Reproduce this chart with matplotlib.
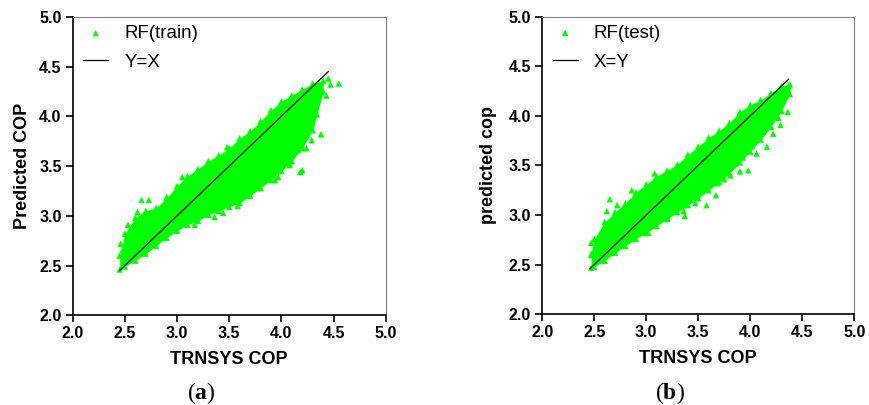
"""
RF model: predicted COP vs TRNSYS COP (train / test)
"""
import matplotlib
matplotlib.use("Agg")
import matplotlib.pyplot as plt

plt.rcParams['font.family'] = ['Liberation Sans', 'DejaVu Sans']
plt.rcParams['mathtext.fontset'] = 'custom'
plt.rcParams['mathtext.rm'] = 'Liberation Serif'
plt.rcParams['mathtext.bf'] = 'Liberation Serif:bold'

GREEN = '#00ff00'

# --- (a) train: dense band of the cloud (upper / lower edge) ---
train_x = [2.45, 2.50, 2.60, 2.70, 2.80, 2.90, 3.00, 3.10, 3.20, 3.30, 3.40,
           3.50, 3.60, 3.70, 3.80, 3.90, 4.00, 4.10, 4.20, 4.30, 4.40]
train_upper = [2.60, 2.82, 2.98, 3.05, 3.08, 3.18, 3.30, 3.40, 3.47, 3.55, 3.61,
               3.68, 3.78, 3.85, 3.95, 4.06, 4.15, 4.21, 4.27, 4.33, 4.36]
train_lower = [2.46, 2.49, 2.55, 2.62, 2.70, 2.78, 2.85, 2.91, 2.95, 3.01, 3.05,
               3.09, 3.13, 3.20, 3.28, 3.36, 3.45, 3.55, 3.68, 3.86, 4.25]

# scattered points outside the band
train_pts_x = [2.46, 2.53, 2.62, 2.66, 2.73, 3.17, 3.36, 3.44, 3.58, 3.72,
               3.80, 3.80, 3.92, 3.94, 3.97, 4.08, 4.16, 4.18, 4.20, 4.24,
               4.29, 4.34, 4.38, 4.43, 4.45, 4.47, 4.55, 2.90, 3.05, 3.48,
               2.48, 2.56]
train_pts_y = [2.72, 2.91, 3.04, 3.16, 3.16, 2.91, 2.99, 3.03, 3.10, 3.29,
               3.28, 3.39, 3.43, 3.36, 3.39, 3.51, 3.66, 3.44, 3.46, 3.68,
               3.76, 4.02, 3.82, 4.21, 4.38, 4.32, 4.33, 3.19, 3.39, 3.69,
               2.66, 2.86]

# --- (b) test ---
test_x = [2.47, 2.50, 2.60, 2.70, 2.80, 2.90, 3.00, 3.10, 3.20, 3.30, 3.40,
          3.50, 3.60, 3.70, 3.80, 3.90, 4.00, 4.10, 4.20, 4.30, 4.38]
test_upper = [2.60, 2.76, 2.93, 3.03, 3.12, 3.23, 3.31, 3.39, 3.45, 3.51, 3.61,
              3.69, 3.78, 3.85, 3.93, 4.04, 4.11, 4.16, 4.23, 4.30, 4.32]
test_lower = [2.47, 2.48, 2.54, 2.62, 2.69, 2.76, 2.82, 2.89, 2.96, 3.03, 3.10,
              3.17, 3.25, 3.33, 3.42, 3.53, 3.64, 3.76, 3.89, 4.05, 4.22]

test_pts_x = [2.47, 2.48, 2.62, 2.65, 2.72, 2.86, 3.02, 3.20, 3.20, 3.36,
              3.37, 3.47, 3.58, 3.61, 3.67, 3.68, 3.81, 3.86, 3.90, 3.97,
              3.98, 4.06, 4.09, 4.16, 4.17, 4.27, 4.29, 4.36, 4.37, 3.08,
              3.75, 3.93, 4.02, 4.12, 4.22]
test_pts_y = [2.72, 2.62, 3.04, 3.16, 3.10, 3.25, 2.82, 2.97, 2.98, 3.04,
              2.99, 3.12, 3.10, 3.32, 3.20, 3.32, 3.40, 3.52, 3.44, 3.66,
              3.45, 3.62, 3.79, 3.69, 3.94, 3.98, 3.91, 4.04, 4.30, 3.42,
              3.36, 3.58, 3.70, 3.84, 3.82]

panels = [
    dict(x=train_x, up=train_upper, lo=train_lower, px=train_pts_x, py=train_pts_y,
         line=(2.45, 4.45), ylabel='Predicted COP', leg=('RF(train)', 'Y=X'),
         tag='a', rect=[0.0836, 0.2215, 0.3598, 0.737], ylab_x=-0.134),
    dict(x=test_x, up=test_upper, lo=test_lower, px=test_pts_x, py=test_pts_y,
         line=(2.46, 4.37), ylabel='predicted cop', leg=('RF(test)', 'X=Y'),
         tag='b', rect=[0.6233, 0.2240, 0.3586, 0.735], ylab_x=-0.146),
]

fig = plt.figure(figsize=(8.7, 4.05), dpi=100)

for p in panels:
    ax = fig.add_axes(p['rect'])

    ax.fill_between(p['x'], p['lo'], p['up'], color=GREEN, linewidth=0, zorder=2)
    ax.scatter(p['x'] + p['x'] + p['px'], p['up'] + p['lo'] + p['py'],
               marker='^', s=22, color=GREEN, edgecolors='none', zorder=2,
               label=p['leg'][0])
    ax.plot(p['line'], p['line'], color='black', linewidth=0.9, zorder=3,
            label=p['leg'][1])

    ax.set_xlim(2.0, 5.0)
    ax.set_ylim(2.0, 5.0)
    ticks = [2.0, 2.5, 3.0, 3.5, 4.0, 4.5, 5.0]
    ax.set_xticks(ticks)
    ax.set_yticks(ticks)
    ax.set_xticklabels([f'{t:.1f}' for t in ticks])
    ax.set_yticklabels([f'{t:.1f}' for t in ticks])
    ax.tick_params(direction='out', length=5, width=1.2, labelsize=11.5, pad=3)
    for lab in ax.get_xticklabels() + ax.get_yticklabels():
        lab.set_fontweight('bold')

    for s in ('left', 'bottom'):
        ax.spines[s].set_linewidth(1.2)
        ax.spines[s].set_color('black')
    for s in ('top', 'right'):
        ax.spines[s].set_linewidth(0.8)
        ax.spines[s].set_color('#808080')

    ax.set_xlabel('TRNSYS COP', fontsize=13, fontweight='bold')
    ax.set_ylabel(p['ylabel'], fontsize=13, fontweight='bold')
    ax.xaxis.set_label_coords(0.5, -0.12)
    ax.yaxis.set_label_coords(p['ylab_x'], 0.5)

    ax.legend(loc='upper left', bbox_to_anchor=(0.033, 0.973), frameon=False,
              fontsize=13.5, borderpad=0, borderaxespad=0, labelspacing=0.62,
              handlelength=1.35, handletextpad=0.85, scatterpoints=1)

    x0, w = p['rect'][0], p['rect'][2]
    fig.text(x0 + w * 0.41, 0.03, r'(' + r'$\mathbf{' + p['tag'] + '}$' + ')',
             ha='center', va='center', fontsize=17, family='Liberation Serif')

fig.savefig('out.png', dpi=100)
